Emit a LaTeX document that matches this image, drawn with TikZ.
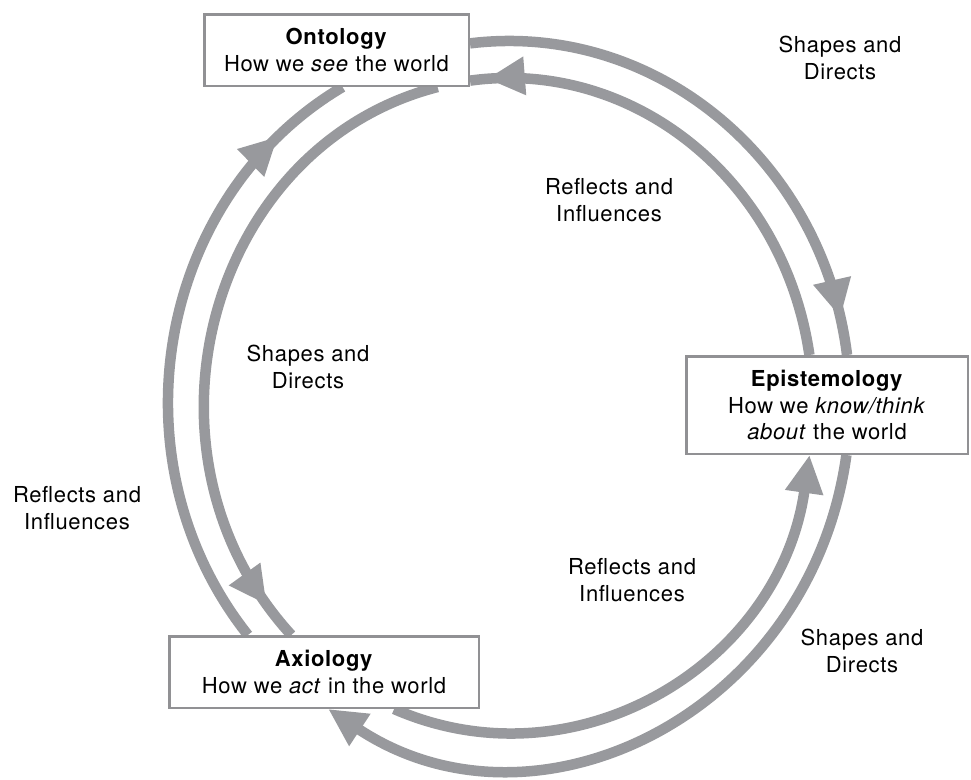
\documentclass[tikz,border=0pt]{standalone}
\usepackage{fontspec}
\setmainfont[LetterSpace=3]{TeX Gyre Heros}
\usetikzlibrary{arrows.meta,decorations.markings,backgrounds}
\definecolor{ring_gray}{RGB}{152,153,157}
\definecolor{box_gray}{RGB}{145,145,148}

\begin{document}
\begin{tikzpicture}[x=1pt,y=1pt,>={Triangle[length=38pt,width=36pt]}]
    \tikzstyle{box}=[draw=box_gray, line width=2.5pt, fill=white, align=center, inner sep=0pt, font=\fontsize{22}{26.5}\selectfont]
    \tikzstyle{lbl}=[align=center, font=\fontsize{22}{26.5}\selectfont]
    \tikzstyle{ring}=[draw=ring_gray, line width=10.5pt]
    \tikzset{mid/.style={postaction={decorate}, decoration={markings, mark=at position #1 with {\arrow[ring_gray]{>}}}}}

    \useasboundingbox (0,0) rectangle (971,-779);

    \node[box, minimum width=264.5pt, minimum height=71.5pt] (onto) at (336.5,-50) {\textbf{Ontology}\\How we \textit{see} the world};
    \node[box, minimum width=281.5pt, minimum height=97.5pt] (epis) at (827,-405) {\textbf{Epistemology}\\How we \textit{know/think}\\\textit{about} the world};
    \node[box, minimum width=309.5pt, minimum height=71.5pt] (axio) at (324,-672) {\textbf{Axiology}\\How we \textit{act} in the world};

    \node[lbl] (sd1) at (840,-58)  {Shapes and\\Directs};
    \node[lbl] (ri1) at (609,-200) {Reflects and\\Influences};
    \node[lbl] (sd2) at (308,-367) {Shapes and\\Directs};
    \node[lbl] (ri2) at (77,-508)  {Reflects and\\Influences};
    \node[lbl] (ri3) at (632,-580) {Reflects and\\Influences};
    \node[lbl] (sd3) at (862,-651) {Shapes and\\Directs};

    % outer ring: clockwise, inner ring: counter-clockwise
    \begin{scope}[on background layer]
    \path
     ([yshift=6.63pt]onto.east) edge[ring, mid=0.93, out=6.96, in=97.13, out distance=186.2pt, in distance=197pt] ([xshift=20.04pt]epis.north)
     ([xshift=19.39pt]epis.south) edge[ring, ->, out=-97.88, in=-33.54, out distance=260.6pt, in distance=250.3pt] ([xshift=4.2pt]axio.south)
     ([xshift=-76.1pt]axio.north) edge[ring, mid=0.87, out=128.39, in=210.67, out distance=221.6pt, in distance=217.1pt] ([xshift=6pt]onto.south)
     ([xshift=-17.6pt]epis.north) edge[ring, mid=0.965, out=98.26, in=7.81, out distance=177pt, in distance=165.1pt] ([yshift=-30.63pt]onto.east)
     ([xshift=70.1pt]axio.south) edge[ring, ->, out=-23.56, in=-98.09, out distance=198.8pt, in distance=211.2pt] ([xshift=-17.5pt]epis.south)
     ([xshift=101.1pt]onto.south) edge[ring, mid=0.9425, out=194.44, in=132.41, out distance=237.9pt, in distance=246.1pt] ([xshift=-32.7pt]axio.north)
     ;
    \end{scope}
\end{tikzpicture}
\end{document}
